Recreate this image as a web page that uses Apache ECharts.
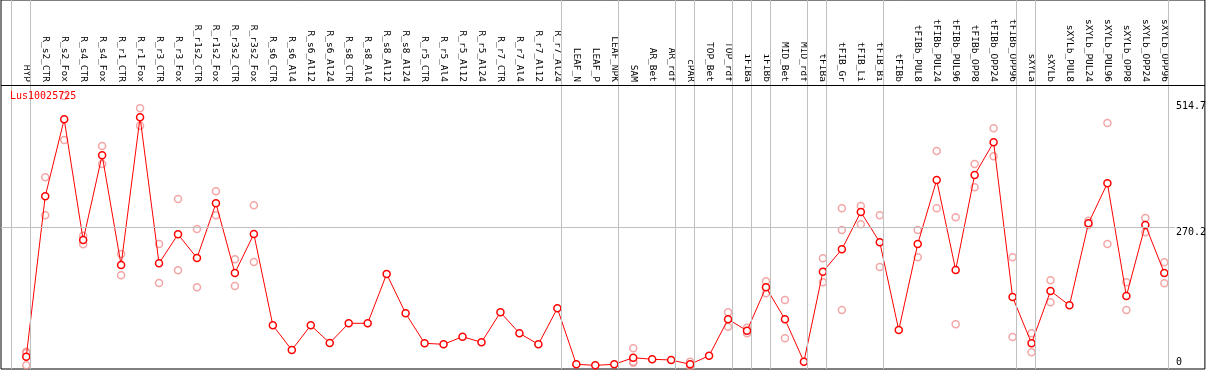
<!DOCTYPE html>
<html>
<head>
<meta charset="utf-8">
<script src="https://cdn.jsdelivr.net/npm/echarts@6/dist/echarts.min.js"></script>
<style>
  html, body { margin: 0; padding: 0; background: #fff; }
  #chart { width: 1209px; height: 370px; }
</style>
</head>
<body>
<div id="chart"></div>
<script>
// 样本名称
var categories = ['HYP','R_s2_CTR','R_s2_Fox','R_s4_CTR','R_s4_Fox','R_r1_CTR','R_r1_Fox','R_r3_CTR','R_r3_Fox',
  'R_r1s2_CTR','R_r1s2_Fox','R_r3s2_CTR','R_r3s2_Fox','R_s6_CTR','R_s6_Al4','R_s6_Al12','R_s6_Al24',
  'R_s8_CTR','R_s8_Al4','R_s8_Al12','R_s8_Al24','R_r5_CTR','R_r5_Al4','R_r5_Al12','R_r5_Al24',
  'R_r7_CTR','R_r7_Al4','R_r7_Al12','R_r7_Al24','LEAF_N','LEAF_P','LEAF_NPK','SAM','AR_Bet','AR_rdf',
  'cPAR','TOP_Bet','TOP_rdf','iFIBa','iFIBb','MID_Bet','MID_rdf','tFIBa','tFIB_Gr','tFIB_Li','tFIB_Bi',
  'tFIBb','tFIBb_PUL8','tFIBb_PUL24','tFIBb_PUL96','tFIBb_OPP8','tFIBb_OPP24','tFIBb_OPP96',
  'sXYLa','sXYLb','sXYLb_PUL8','sXYLb_PUL24','sXYLb_PUL96','sXYLb_OPP8','sXYLb_OPP24','sXYLb_OPP96'];
// 平均值
var meanValues = [18.5,331.5,481.7,246.2,411.5,197.5,485.7,200.8,257.3,211.1,317.8,181.9,258,
  79.8,31.6,79.8,45.3,83.7,83.7,179.9,103.2,44.7,42.7,57.6,46.6,105.2,64.2,42.7,113,
  3.7,1.7,3.7,16.6,13.5,12.1,3.7,20.5,91.5,69.3,153.9,91.5,8.8,184.4,228.1,300.9,241.8,
  70.6,238.4,363.3,187.7,373.1,436.9,135,44.7,146.7,118.8,278.8,356.9,137,275.5,181.9];
// 重复样本
var replicateValues = [[28,26,2],[368.6,294.4],[527,441.4],[254.6,237.8],[429.7,394.5],[218.9,177.3],
  [503.2,469.3],[238.4,162.3],[326.2,187.1],[267.7,153.9],[341.2,294.4],[208.6,156.5],[313.9,203.3],
  [],[],[],[],[],[],[],[],[],[],[],[],[],[],[],[],[],[],[],
  [34.9,8.5,6.8],[],[],[8.8,0],[],[105.2,77.1],[75.1,64.2],[165.7,142.2],[129.2,54.4],[],
  [210.5,163.7],[308.1,265.8,109.7],[312.6,276.9],[294.4,193.6],[],[265.8,212.5],[419.9,308.1],
  [290.5,81.8],[394.5,349.1],[464.2,409.6],[212.5,57],[64.2,27.1],[167.6,124.7],[],[283.9,275.5],
  [474.5,238.4],[163.7,109.7],[289.2,261.3],[202.7,161.8]];
// 分组分隔线（在该样本之后）
var separatorAfter = [-1,0,28,31,34,35,37,38,39,41,42,45,52,53,60];
// y轴刻度
var yTicks = [0, 270.2, 514.7];
var geneName = 'Lus10025725';

var meanData = meanValues.map(function (v, i) { return [i, v]; });
var repData = [];
replicateValues.forEach(function (list, i) {
  list.forEach(function (v) { repData.push([i, v]); });
});

var mono = 'DejaVu Sans Mono';
var option = {
  animation: false,
  title: {
    text: geneName, left: 5, top: 86,
    textStyle: { color: '#ff0000', fontSize: 10, fontWeight: 'normal', fontFamily: mono }
  },
  grid: { left: 1, right: 2, top: 0, bottom: 1, show: true, borderColor: '#000', borderWidth: 1 },
  xAxis: {
    type: 'value', position: 'top', offset: -85,
    min: -1.332, max: 62.14,
    axisLine: { show: false, onZero: false },
    axisTick: { show: false },
    splitLine: { show: false },
    axisLabel: {
      customValues: categories.map(function (c, i) { return i; }),
      rotate: 90, margin: 3, fontSize: 9.5, fontFamily: mono, color: '#000',
      formatter: function (v) { return categories[Math.round(v)] || ''; }
    }
  },
  yAxis: {
    type: 'value', position: 'right',
    min: -5.46, max: 714.5,
    axisLine: { show: false }, axisTick: { show: false }, splitLine: { show: false },
    axisLabel: {
      customValues: yTicks, inside: true, margin: 29, align: 'left',
      verticalAlign: 'middle',
      formatter: function (v) { return v === 0 ? '{b|0}' : '{a|' + v + '}'; },
      rich: {
        a: { fontSize: 10, fontFamily: mono, color: '#000', padding: [9, 0, 0, 0] },
        b: { fontSize: 10, fontFamily: mono, color: '#000', padding: [0, 0, 8, 0] }
      }
    }
  },
  series: [
    {
      type: 'scatter', z: 2, data: repData,
      symbol: 'circle', symbolSize: 7,
      itemStyle: { color: 'rgba(255,255,255,0)', borderColor: '#f09090', borderWidth: 1.5 },
      markLine: {
        silent: true, symbol: 'none', label: { show: false },
        data: separatorAfter.map(function (i) {
          return { xAxis: i + 0.2, lineStyle: { color: '#c0c0c0', width: 1, type: 'solid' } };
        }).concat([
          [{ coord: [-1.332, 270.2], lineStyle: { color: '#c0c0c0', width: 1, type: 'solid' } },
           { coord: [60.56, 270.2] }],
          { yAxis: 548.7, lineStyle: { color: '#000', width: 1, type: 'solid' } }
        ])
      }
    },
    {
      type: 'line', z: 3, data: meanData,
      symbol: 'circle', symbolSize: 7, showAllSymbol: true,
      lineStyle: { color: '#ff0000', width: 1 },
      itemStyle: { color: '#ffffff', borderColor: '#ff0000', borderWidth: 1.5 }
    }
  ]
};
var myChart = echarts.init(document.getElementById('chart'));
myChart.setOption(option);
</script>
</body>
</html>
